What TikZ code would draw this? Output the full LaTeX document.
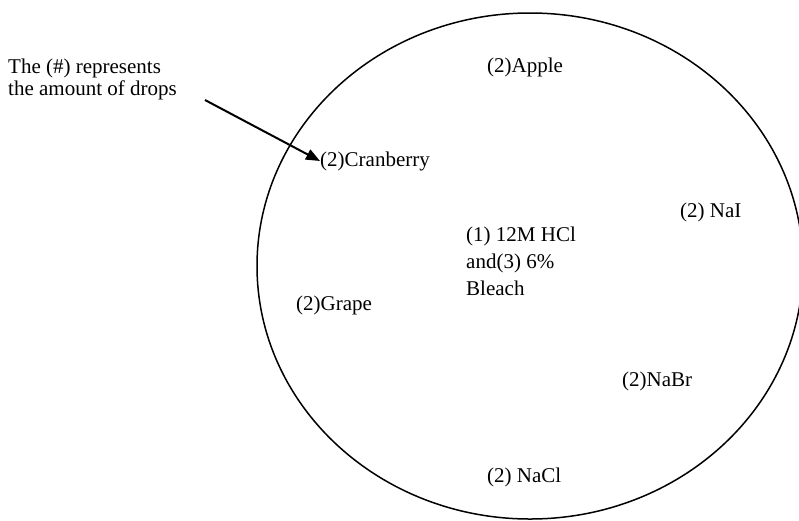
\documentclass[tikz,border=0pt]{standalone}
\usepackage{fontspec}
\setmainfont{Liberation Serif}
\usetikzlibrary{arrows.meta}
\tikzset{
  lbl/.style={inner sep=0pt, anchor=west, font=\fontsize{21}{27}\selectfont},
  plate/.style={draw=black, line width=1.5pt},
  pointer/.style={draw=black, line width=2pt, -{Triangle[length=14pt,width=11pt]}}
}
\begin{document}
\begin{tikzpicture}[x=1pt,y=-1pt]
\useasboundingbox (0,0) rectangle (799,520);
\draw[plate] (530,266) ellipse [x radius=273, y radius=253];
\node[inner sep=0pt, align=left, anchor=west, font=\fontsize{21}{22}\selectfont] (note) at (8,79) {The (\#) represents\\the amount of drops};
\node[lbl] (apple) at (487,67) {(2)Apple};
\node[lbl] (cran) at (320,161) {(2)Cranberry};
\node[lbl] (nai) at (680,212) {(2) NaI};
\node[lbl, align=left, anchor=north west] (center) at (466,227) {(1) 12M HCl\\and(3) 6\%\\Bleach};
\node[lbl] (grape) at (296,305) {(2)Grape};
\node[lbl] (nabr) at (622,381) {(2)NaBr};
\node[lbl] (nacl) at (487,477) {(2) NaCl};
\coordinate (tail) at (205,100);
\draw[pointer] (tail) -- (cran.west);
\end{tikzpicture}
\end{document}
